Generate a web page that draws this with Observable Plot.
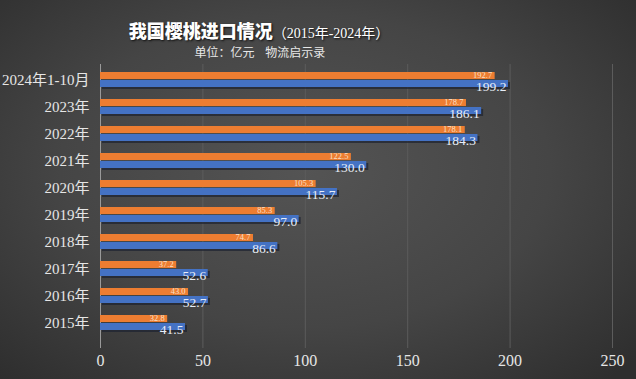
<!DOCTYPE html>
<html>
<head>
<meta charset="utf-8">
<script src="https://cdn.jsdelivr.net/npm/d3@7"></script>
<script src="https://cdn.jsdelivr.net/npm/@observablehq/plot@0.6"></script>
<style>
  html, body { margin: 0; padding: 0; background: #3a3a3a; }
  #wrap {
    width: 636px; height: 379px; overflow: hidden; position: relative;
    background: radial-gradient(ellipse 70% 75% at 48% 45%, #545454 0%, #454545 55%, #2e2e2e 100%);
    font-family: "Liberation Serif", "Noto Sans CJK SC", serif;
  }
  #head { position: relative; height: 62px; }
  #title {
    position: absolute; left: 0; top: 17px; width: 518px; text-align: center;
    color: #ffffff; white-space: nowrap; line-height: 26px;
    text-shadow: 1px 1px 2px #111;
  }
  #title .main { font-family: "Noto Sans CJK SC", sans-serif; font-weight: 900; font-size: 18px; }
  #title .yrs { font-family: "Liberation Serif", "Noto Sans CJK SC", serif; font-size: 14px; }
  #sub {
    position: absolute; left: 0; top: 43px; width: 520px; text-align: center;
    color: #e8e8e8; font-size: 12px; line-height: 18px; white-space: pre;
    font-family: "Noto Sans CJK SC", sans-serif;
  }
  svg { display: block; }
</style>
</head>
<body>
<div id="wrap">
  <div id="head">
    <div id="title"><span class="main">我国樱桃进口情况</span><span class="yrs">（2015年-2024年）</span></div>
    <div id="sub">单位：亿元    物流启示录</div>
  </div>
  <div id="chart"></div>
</div>
<script>
const years = ["2024年1-10月","2023年","2022年","2021年","2020年","2019年","2018年","2017年","2016年","2015年"];
const series1 = [192.7, 178.7, 178.1, 122.5, 105.3, 85.3, 74.7, 37.2, 43.0, 32.8];
const series2 = [199.2, 186.1, 184.3, 130.0, 115.7, 97.0, 86.6, 52.6, 52.7, 41.5];
const xTicks = [0, 50, 100, 150, 200, 250];

const rows = years.map((y, i) => ({year: y, s1: series1[i], s2: series2[i]}));

const chart = Plot.plot({
  width: 636,
  height: 317,
  marginLeft: 100,
  marginRight: 24,
  marginTop: 2,
  marginBottom: 31,
  style: {background: "transparent", color: "#e6e6e6", fontFamily: "'Liberation Serif', 'Noto Sans CJK SC', serif"},
  x: {domain: [0, 250]},
  y: {domain: years, range: [7, 271.5], paddingInner: 0.46, paddingOuter: 0},
  marks: [
    Plot.ruleX(xTicks.slice(1), {stroke: "#5c5c5c", strokeWidth: 1}),
    Plot.ruleX([0], {stroke: "#9a9a9a", strokeWidth: 1}),
    Plot.barX(rows, {x: "s2", y: "year", fill: "#1c2230", fillOpacity: 0.7, insetTop: 10, insetBottom: -2, dx: 2}),
    Plot.barX(rows, {x: "s1", y: "year", fill: "#ED7D31", insetBottom: 8}),
    Plot.barX(rows, {x: "s2", y: "year", fill: "#4472C4", insetTop: 8}),
    Plot.text(rows, {x: "s1", y: "year", text: d => d.s1.toFixed(1), textAnchor: "end", dx: -3, dy: -5, fontSize: 8.5, fill: "#fbe0c8"}),
    Plot.text(rows, {x: "s2", y: "year", text: d => d.s2.toFixed(1), textAnchor: "end", dx: -2, dy: 6.5, fontSize: 13.5, fill: "#e8eef8"}),
    Plot.axisY({tickSize: 0, tickPadding: 11, fontSize: 15, label: null}),
    Plot.axisX({ticks: xTicks, tickSize: 0, tickPadding: 6, fontSize: 16, label: null})
  ]
});
document.getElementById("chart").appendChild(chart);
</script>
</body>
</html>
